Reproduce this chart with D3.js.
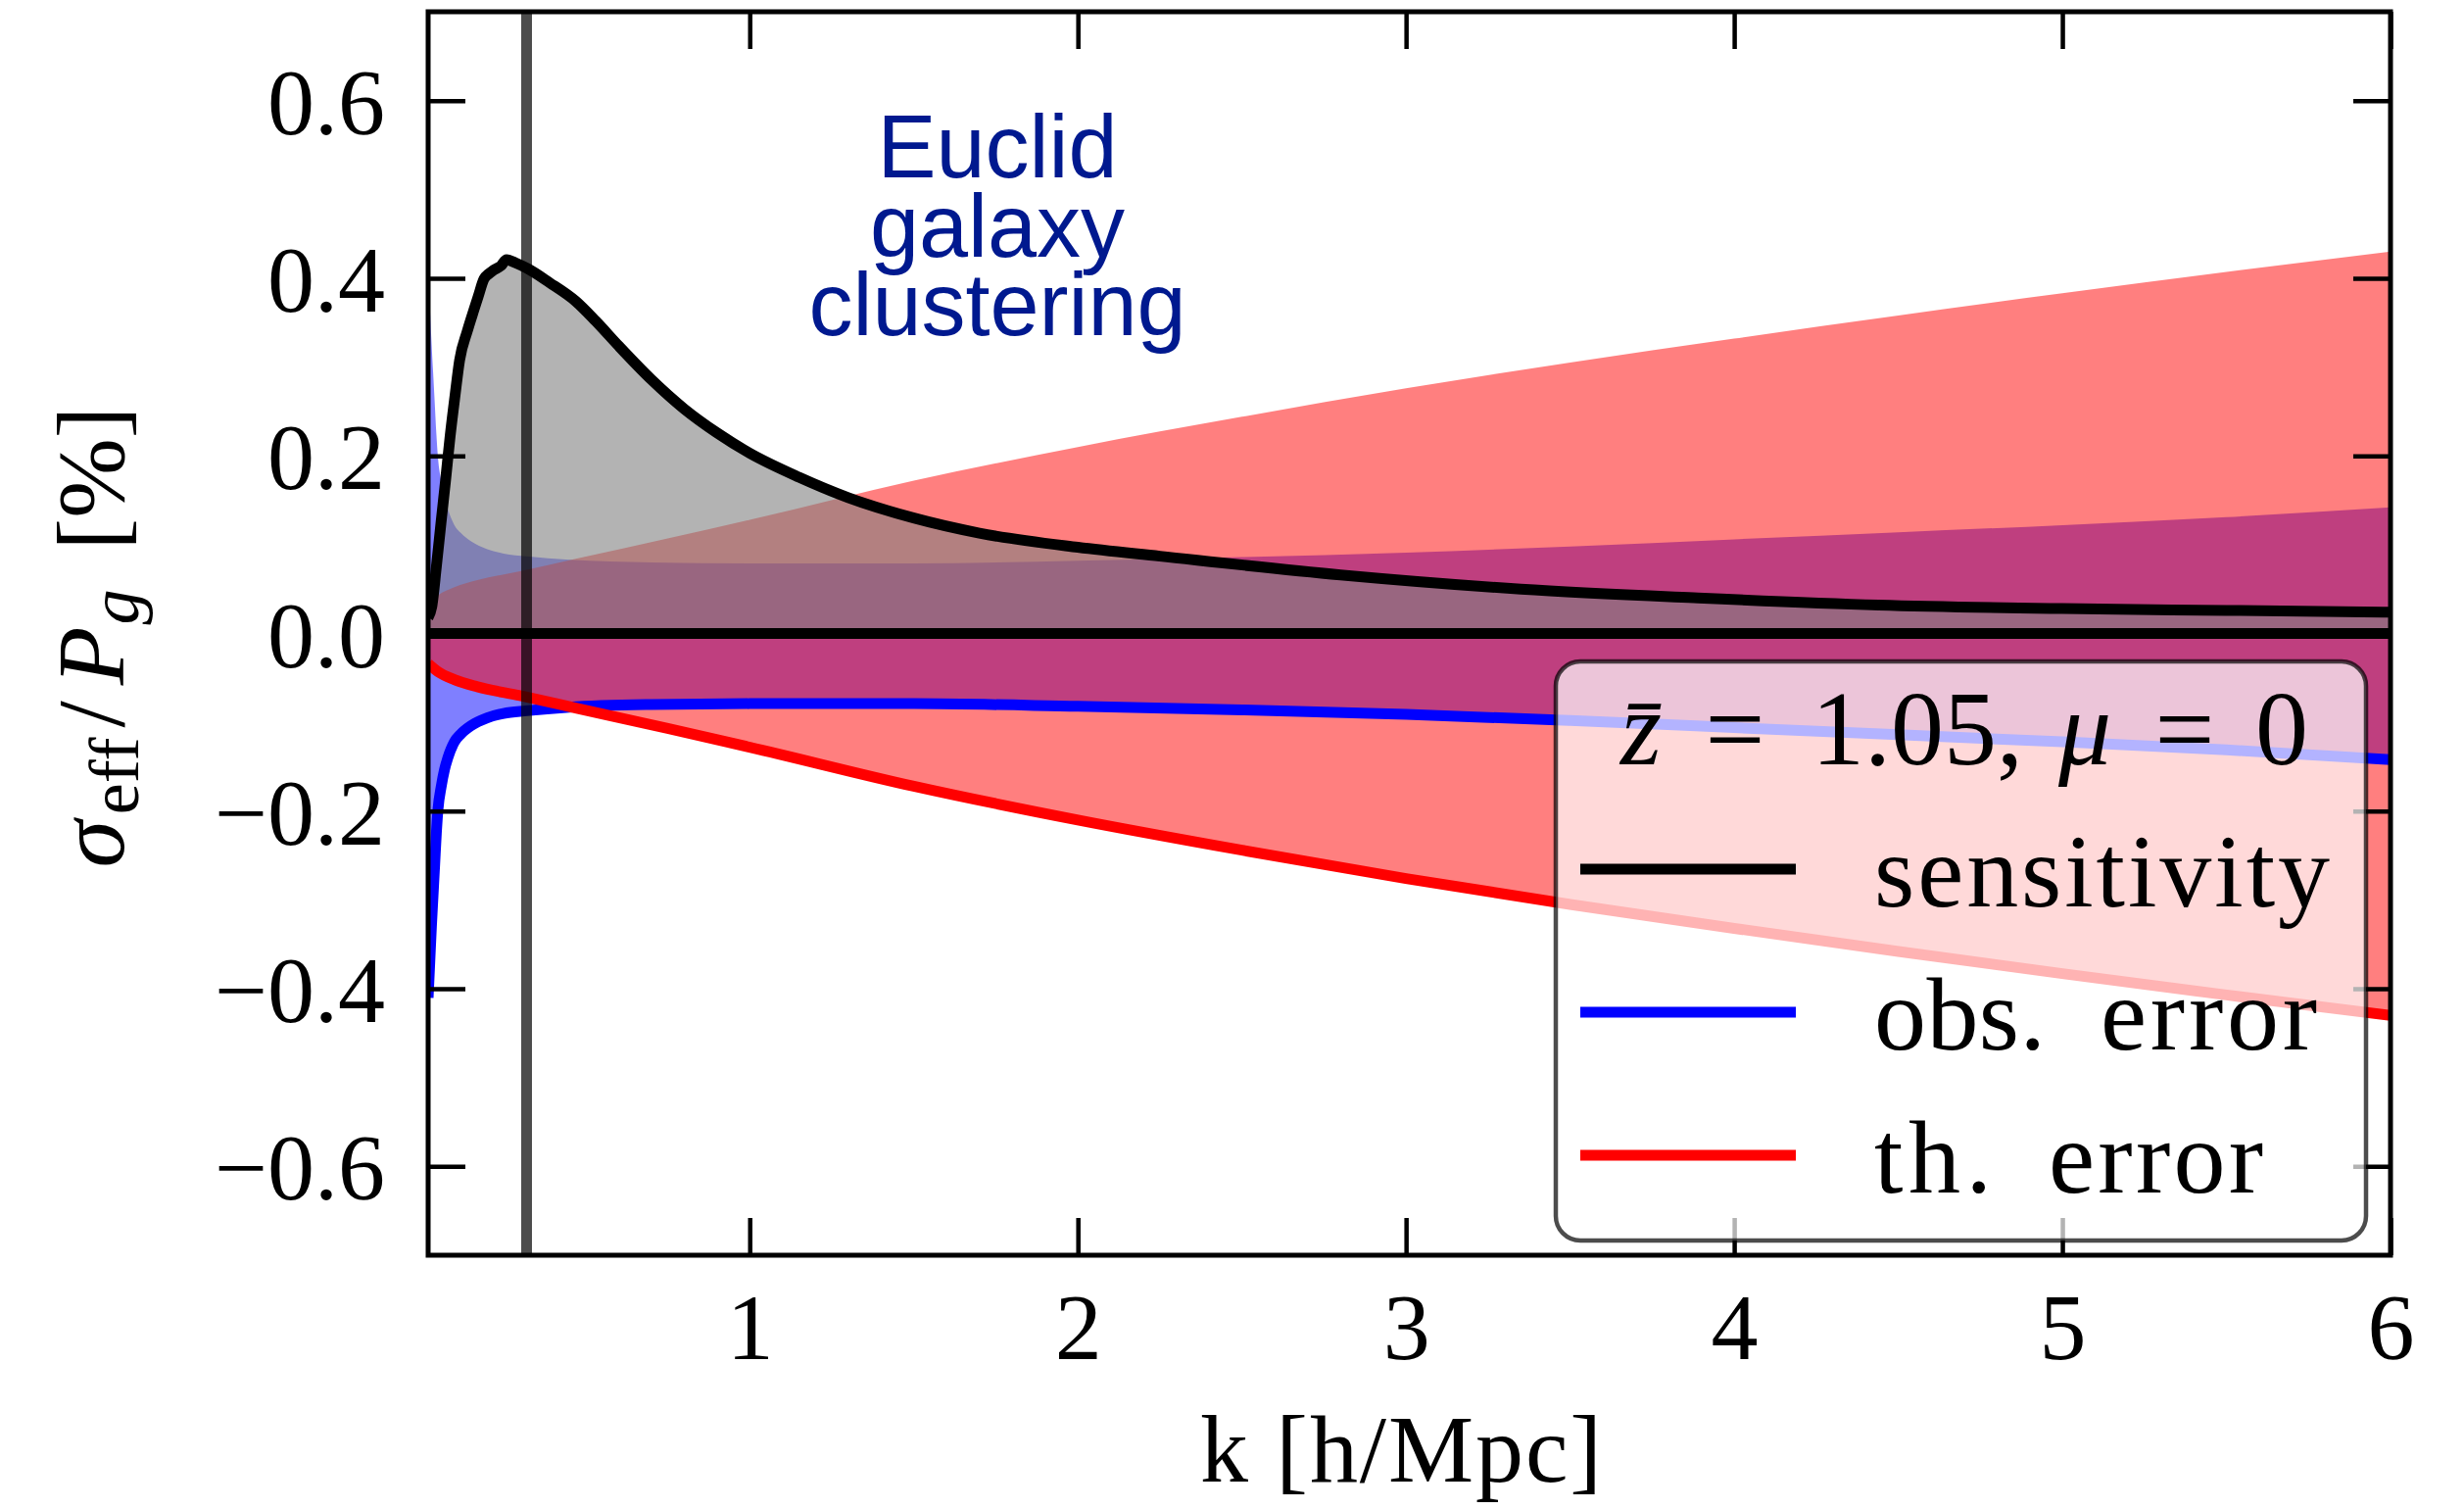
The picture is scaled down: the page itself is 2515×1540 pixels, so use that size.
<!DOCTYPE html>
<html>
<head>
<meta charset="utf-8">
<script src="https://cdn.jsdelivr.net/npm/d3@7"></script>
<style>
body { margin: 0; background: #fff; }
text { font-family: "Liberation Serif", "DejaVu Serif", serif; }
</style>
</head>
<body>
<svg id="chart" width="2515" height="1540"></svg>
<script>

// sensitivity curve
const kSens = [0.02, 0.031, 0.045, 0.059, 0.073, 0.087, 0.102, 0.116, 0.139, 0.16, 0.173, 0.19, 0.205, 0.219, 0.242, 0.259, 0.288, 0.322, 0.39, 0.47, 0.53, 0.6, 0.7, 0.8, 0.9, 1.0, 1.15, 1.3, 1.5, 1.7, 2.0, 2.25, 2.8, 3.35, 3.89, 4.44, 5.0, 5.5, 6.0];
const sensitivity = [0.018, 0.03, 0.075, 0.124, 0.172, 0.222, 0.268, 0.308, 0.34, 0.365, 0.38, 0.399, 0.405, 0.409, 0.414, 0.421, 0.417, 0.411, 0.395, 0.374, 0.352, 0.324, 0.286, 0.253, 0.226, 0.203, 0.176, 0.153, 0.13, 0.113, 0.097, 0.087, 0.066, 0.05, 0.04, 0.032, 0.028, 0.026, 0.024];

// observational error (band is +-, line drawn at minus)
const kObs = [0.02, 0.025, 0.03, 0.035, 0.04, 0.045, 0.05, 0.06, 0.07, 0.08, 0.1, 0.12, 0.15, 0.2, 0.25, 0.32, 0.45, 0.7, 1.0, 1.5, 2.0, 2.5, 3.0, 3.5, 4.0, 4.5, 5.0, 5.5, 6.0];
const obsError = [0.41, 0.37, 0.33, 0.295, 0.26, 0.225, 0.198, 0.172, 0.153, 0.14, 0.122, 0.113, 0.104, 0.095, 0.09, 0.087, 0.083, 0.08, 0.079, 0.079, 0.082, 0.086, 0.091, 0.098, 0.106, 0.114, 0.122, 0.131, 0.142];

// theoretical error
const kTh = [0.02, 0.05, 0.1, 0.17, 0.3, 0.47, 0.75, 1.0, 1.5, 2.0, 2.5, 3.0, 3.5, 4.0, 4.5, 5.0, 5.5, 6.0];
const thError = [0.034, 0.043, 0.052, 0.06, 0.07, 0.084, 0.107, 0.128, 0.172, 0.21, 0.244, 0.276, 0.305, 0.332, 0.358, 0.383, 0.407, 0.43];

const kMarker = 0.32;

const xTicks = [1, 2, 3, 4, 5, 6];
const yTicks = [-0.6, -0.4, -0.2, 0, 0.2, 0.4, 0.6];

const legendNames = ["sensitivity", "obs. error", "th. error"];
const legendColors = ["#000000", "#0000ff", "#ff0000"];

const noteLines = ["Euclid", "galaxy", "clustering"];


let svg = d3.select("#chart");

let x = d3.scaleLinear()
  .domain([0.02, 6])
  .range([437, 2440]);

let y = d3.scaleLinear()
  .domain([-0.7, 0.7])
  .range([1281, 12]);

svg.append("defs").append("clipPath")
  .attr("id", "plotclip")
  .append("rect")
  .attr("x", x.range()[0]).attr("y", y.range()[1])
  .attr("width", x.range()[1] - x.range()[0])
  .attr("height", y.range()[0] - y.range()[1]);

let plot = svg.append("g").attr("clip-path", "url(#plotclip)");

let sensPts = d3.zip(kSens, sensitivity);
let obsPts = d3.zip(kObs, obsError);
let thPts = d3.zip(kTh, thError);

let band = d3.area()
  .x(d => x(d[0]))
  .y0(d => y(-d[1]))
  .y1(d => y(d[1]))
  .curve(d3.curveMonotoneX);

let lower = d3.line()
  .x(d => x(d[0]))
  .y(d => y(-d[1]))
  .curve(d3.curveMonotoneX);

// bands
plot.append("path").datum(obsPts)
  .attr("d", band)
  .attr("fill", "#0000ff").attr("fill-opacity", 0.5);

plot.append("path").datum(thPts)
  .attr("d", band)
  .attr("fill", "#ff0000").attr("fill-opacity", 0.5);

plot.append("path").datum(sensPts)
  .attr("d", d3.area().x(d => x(d[0])).y0(y(0)).y1(d => y(d[1])).curve(d3.curveMonotoneX))
  .attr("fill", "#808080").attr("fill-opacity", 0.6);

// zero line
plot.append("line")
  .attr("x1", x.range()[0]).attr("x2", x.range()[1])
  .attr("y1", y(0)).attr("y2", y(0))
  .attr("stroke", "#000").attr("stroke-width", 11);

// curves
plot.append("path").datum(sensPts)
  .attr("d", d3.line().x(d => x(d[0])).y(d => y(d[1])).curve(d3.curveMonotoneX))
  .attr("fill", "none").attr("stroke", "#000").attr("stroke-width", 11)
  .attr("stroke-linejoin", "round");

plot.append("path").datum(obsPts)
  .attr("d", lower)
  .attr("fill", "none").attr("stroke", "#0000ff").attr("stroke-width", 11)
  .attr("stroke-linejoin", "round");

plot.append("path").datum(thPts)
  .attr("d", lower)
  .attr("fill", "none").attr("stroke", "#ff0000").attr("stroke-width", 11)
  .attr("stroke-linejoin", "round");

// vertical marker
plot.append("line")
  .attr("x1", x(kMarker)).attr("x2", x(kMarker))
  .attr("y1", y.range()[0]).attr("y2", y.range()[1])
  .attr("stroke", "#000").attr("stroke-opacity", 0.7).attr("stroke-width", 11);

// axes, ticks pointing inward on all four sides
function styleAxis(g) {
  g.select(".domain").remove();
  g.selectAll(".tick line").attr("stroke", "#000").attr("stroke-width", 4.5);
  g.selectAll(".tick text")
    .attr("fill", "#000")
    .style("font-family", '"Liberation Serif", "DejaVu Serif", serif')
    .style("font-size", "96px");
}

svg.append("g")
  .attr("transform", `translate(${x.range()[0]},0)`)
  .call(d3.axisLeft(y).tickValues(yTicks).tickSize(-38).tickPadding(44).tickFormat(d3.format(".1f")))
  .call(styleAxis)
  .selectAll(".tick text").attr("dy", "0.35em");

svg.append("g")
  .attr("transform", `translate(${x.range()[1]},0)`)
  .call(d3.axisRight(y).tickValues(yTicks).tickSize(-38).tickFormat(""))
  .call(styleAxis);

svg.append("g")
  .attr("transform", `translate(0,${y.range()[0]})`)
  .call(d3.axisBottom(x).tickValues(xTicks).tickSize(-38).tickPadding(38).tickFormat(d3.format("d")))
  .call(styleAxis);

svg.append("g")
  .attr("transform", `translate(0,${y.range()[1]})`)
  .call(d3.axisTop(x).tickValues(xTicks).tickSize(-38).tickFormat(""))
  .call(styleAxis);

// frame
svg.append("rect")
  .attr("x", x.range()[0]).attr("y", y.range()[1])
  .attr("width", x.range()[1] - x.range()[0])
  .attr("height", y.range()[0] - y.range()[1])
  .attr("fill", "none").attr("stroke", "#000").attr("stroke-width", 5);

// axis labels
svg.append("text")
  .attr("x", 1430).attr("y", 1512)
  .attr("text-anchor", "middle")
  .attr("textLength", 410)
  .attr("lengthAdjust", "spacing")
  .style("font-size", "98px")
  .text("k [h/Mpc]");

let ylab = svg.append("text")
  .attr("transform", "translate(126,650) rotate(-90)")
  .attr("text-anchor", "middle")
  .style("font-size", "98px");
ylab.append("tspan").attr("font-style", "italic").text("σ");
ylab.append("tspan").attr("font-size", 72).attr("dy", 15).attr("dx", 6).text("eff");
ylab.append("tspan").attr("dy", -15).attr("dx", 10).text("/");
ylab.append("tspan").attr("font-style", "italic").attr("dx", 16).text("P");
ylab.append("tspan").attr("font-style", "italic").attr("font-size", 72).attr("dy", 15).attr("dx", 2).text("g");
ylab.append("tspan").attr("dy", -15).attr("dx", 40).text("[%]");

// annotation, one text block like the original
let note = svg.append("text")
  .attr("text-anchor", "middle")
  .style("font-family", '"Liberation Sans", Arial, sans-serif')
  .style("font-size", "90px")
  .attr("fill", "#00198f");
note.selectAll("tspan")
  .data(noteLines)
  .enter()
  .append("tspan")
  .attr("x", 1018)
  .attr("y", (d, i) => 181 + i * 80.5)
  .text(d => d);

// legend
let legend = svg.append("g");

legend.append("rect")
  .attr("x", 1588).attr("y", 675)
  .attr("width", 827).attr("height", 591)
  .attr("rx", 25).attr("ry", 25)
  .attr("fill", "#fff").attr("fill-opacity", 0.7)
  .attr("stroke", "#000").attr("stroke-opacity", 0.7).attr("stroke-width", 4.5);

let titleParts = [
  {x: 1675, t: "z\u0304", it: true},
  {x: 1771, t: "=", it: false},
  {x: 1957, t: "1.05,", it: false},
  {x: 2128, t: "μ", it: true},
  {x: 2230, t: "=", it: false},
  {x: 2329, t: "0", it: false}
];
legend.selectAll("text.title")
  .data(titleParts)
  .enter()
  .append("text")
  .attr("class", "title")
  .attr("x", d => d.x).attr("y", 780)
  .attr("text-anchor", "middle")
  .attr("font-style", d => d.it ? "italic" : null)
  .style("font-size", "108px")
  .text(d => d.t);

let wordLeft = [[1913], [1913, 2144], [1913, 2091]];
let wordWidth = [[465], [175, 221], [120, 219]];

legendNames.forEach((name, i) => {
  let yy = 887 + i * 146;
  legend.append("line")
    .attr("x1", 1613).attr("x2", 1833)
    .attr("y1", yy).attr("y2", yy)
    .attr("stroke", legendColors[i]).attr("stroke-width", 11);
  name.split(" ").forEach((w, j) => {
    legend.append("text")
      .attr("x", wordLeft[i][j]).attr("y", yy + 38)
      .attr("textLength", wordWidth[i][j])
      .attr("lengthAdjust", "spacing")
      .style("font-size", "106px")
      .text(w);
  });
});

</script>
</body>
</html>
